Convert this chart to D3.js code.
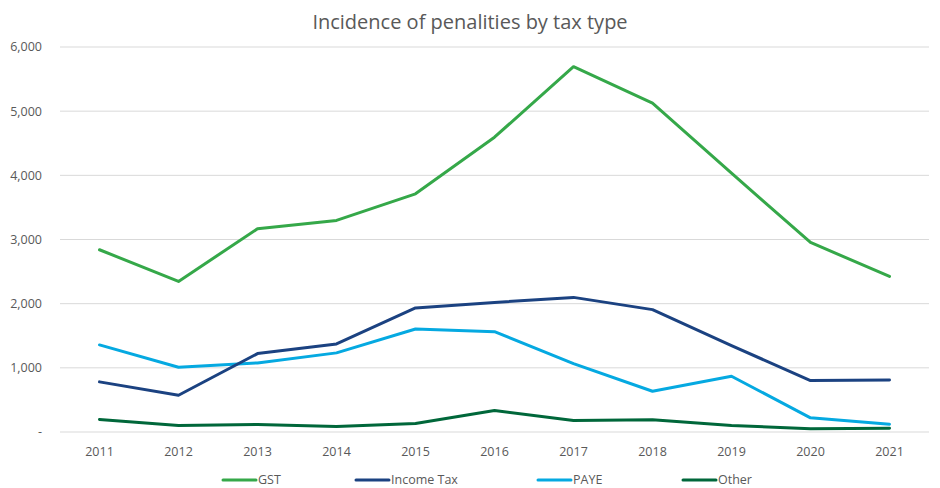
<html>
<head>
<meta charset="utf-8">
<script src="https://d3js.org/d3.v7.min.js"></script>
<style>
body { margin: 0; background: #fff; }
svg text { font-family: "Open Sans", Arial, sans-serif; fill: #595959; }
</style>
</head>
<body>
<svg id="chart" width="940" height="488"></svg>
<script>

var years = ["2011","2012","2013","2014","2015","2016","2017","2018","2019","2020","2021"];
var gst = [2840, 2347, 3167, 3297, 3712, 4594, 5693, 5124, 4034, 2954, 2425];
var incomeTax = [781, 573, 1222, 1373, 1933, 2020, 2098, 1907, 1346, 802, 812];
var paye = [1357, 1009, 1077, 1233, 1606, 1564, 1066, 635, 869, 221, 121];
var other = [195, 101, 117, 86, 132, 335, 179, 190, 101, 50, 59];
var yTicks = [0, 1000, 2000, 3000, 4000, 5000, 6000];

var series = [
	{name: "GST", values: gst, color: "#35a849"},
	{name: "Income Tax", values: incomeTax, color: "#1b4281"},
	{name: "PAYE", values: paye, color: "#05a9e1"},
	{name: "Other", values: other, color: "#00673a"}
];

var svg = d3.select("#chart"),
	margin = {top: 47, left: 60, bottom: 56, right: 11},
	width = +svg.attr("width"),
	height = +svg.attr("height");

var x = d3.scaleBand()
	.domain(years)
	.range([margin.left, width - margin.right]);

var y = d3.scaleLinear()
	.domain([0, 6000])
	.range([height - margin.bottom, margin.top]);

// gridlines
svg.append("g")
	.selectAll("line")
	.data(yTicks)
	.enter().append("line")
	.attr("x1", margin.left)
	.attr("x2", width - margin.right)
	.attr("y1", d => y(d))
	.attr("y2", d => y(d))
	.attr("stroke", "#d9d9d9")
	.attr("stroke-width", 1);

// y labels
svg.append("g")
	.selectAll("text")
	.data(yTicks)
	.enter().append("text")
	.attr("x", 42)
	.attr("y", d => y(d))
	.attr("dy", "0.35em")
	.attr("text-anchor", "end")
	.style("font-size", "12.5px")
	.text(d => d == 0 ? "-" : d3.format(",")(d));

// x labels
svg.append("g")
	.selectAll("text")
	.data(years)
	.enter().append("text")
	.attr("x", d => x(d) + x.bandwidth() / 2)
	.attr("y", 456)
	.attr("text-anchor", "middle")
	.style("font-size", "12.5px")
	.text(d => d);

var line = d3.line()
	.x((d, i) => x(years[i]) + x.bandwidth() / 2)
	.y(d => y(d));

svg.append("g")
	.selectAll("path")
	.data(series.slice().reverse())
	.enter().append("path")
	.attr("fill", "none")
	.attr("stroke", d => d.color)
	.attr("stroke-width", 3)
	.attr("stroke-linejoin", "round")
	.attr("stroke-linecap", "round")
	.attr("d", d => line(d.values));

// title
svg.append("text")
	.attr("x", 470)
	.attr("y", 29)
	.attr("text-anchor", "middle")
	.style("font-size", "20px")
	.text("Incidence of penalities by tax type");

// legend
var legendX = [223, 356, 538, 683];
var legend = svg.append("g")
	.selectAll("g")
	.data(series)
	.enter().append("g")
	.attr("transform", (d, i) => "translate(" + legendX[i] + ",480)");

legend.append("line")
	.attr("x1", 0)
	.attr("x2", 33)
	.attr("stroke", d => d.color)
	.attr("stroke-width", 3)
	.attr("stroke-linecap", "round");

legend.append("text")
	.attr("x", 35)
	.attr("dy", "0.35em")
	.style("font-size", "12.5px")
	.text(d => d.name);

</script>
</body>
</html>
